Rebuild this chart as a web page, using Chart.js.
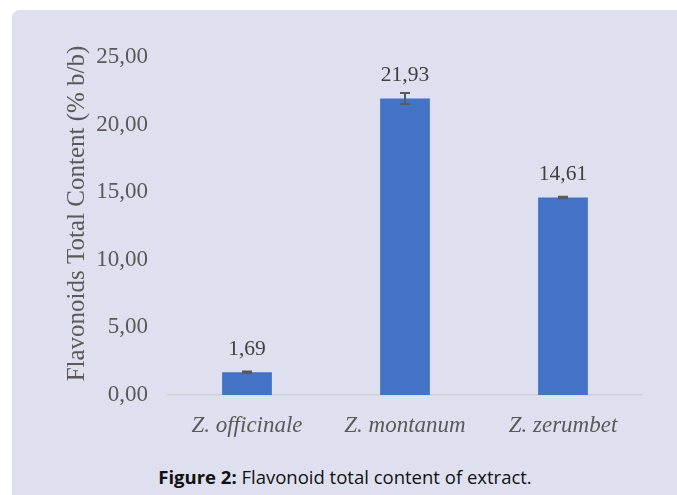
<!DOCTYPE html>
<html>
<head>
<meta charset="utf-8">
<script src="https://cdn.jsdelivr.net/npm/chart.js@4.4.1/dist/chart.umd.min.js"></script>
<style>
    html, body { margin: 0; padding: 0; background: #ffffff; }
    body { width: 677px; height: 495px; position: relative; overflow: hidden; }
    #panel {
        position: absolute; left: 12px; top: 10px; width: 680px; height: 500px;
        background: #dee0ef; border-radius: 8px;
    }
    #wrap { position: absolute; left: 0; top: 0; width: 677px; height: 450px; }
    #caption {
        position: absolute; left: 0; top: 464px; width: 690px; text-align: center;
        font-family: 'Open Sans', sans-serif; font-size: 18.5px; color: #111;
    }
</style>
</head>
<body>
<div id="panel"></div>
<div id="wrap"><canvas id="chart"></canvas></div>
<div id="caption"><b>Figure 2:</b> Flavonoid total content of extract.</div>
<script>
const categories = ['Z. officinale', 'Z. montanum', 'Z. zerumbet']
const values = [1.69, 21.93, 14.61]
const errors = [0.05, 0.4, 0.06]
const yTicks = [0, 5, 10, 15, 20, 25]

const fmt = v => v.toFixed(2).replace('.', ',')
const serif = "'Liberation Serif', 'Times New Roman', serif"

const labelsAndErrors = {
    id: 'labelsAndErrors',
    afterDatasetsDraw(chart) {
        const ctx = chart.ctx
        const y = chart.scales.y
        const meta = chart.getDatasetMeta(0)
        ctx.save()
        meta.data.forEach((bar, i) => {
            const top = y.getPixelForValue(values[i] + errors[i])
            const bot = y.getPixelForValue(values[i] - errors[i])
            ctx.strokeStyle = '#595959'
            ctx.lineWidth = 2
            ctx.beginPath()
            ctx.moveTo(bar.x, top); ctx.lineTo(bar.x, bot)
            ctx.moveTo(bar.x - 5, top); ctx.lineTo(bar.x + 5, top)
            ctx.moveTo(bar.x - 5, bot); ctx.lineTo(bar.x + 5, bot)
            ctx.stroke()
            ctx.fillStyle = '#404040'
            ctx.font = '21.5px ' + serif
            ctx.textAlign = 'center'
            ctx.textBaseline = 'middle'
            ctx.fillText(fmt(values[i]), bar.x, bar.y - 23)
        })
        ctx.restore()
    }
}

new Chart(document.getElementById('chart'), {
    type: 'bar',
    data: {
        labels: categories,
        datasets: [{
            data: values,
            backgroundColor: '#4472c4',
            categoryPercentage: 1,
            barPercentage: 0.315
        }]
    },
    options: {
        responsive: true,
        maintainAspectRatio: false,
        animation: false,
        layout: { padding: { top: 57, right: 35, left: 0, bottom: 0 } },
        plugins: { legend: { display: false }, tooltip: { enabled: false } },
        scales: {
            x: {
                grid: { display: false },
                border: { color: '#cfd0d6', width: 1.5 },
                ticks: { color: '#595959', font: { family: serif, size: 23, style: 'italic' }, padding: 9 },
                afterFit: s => { s.height = 55 }
            },
            y: {
                min: 0,
                max: 25,
                afterBuildTicks: s => { s.ticks = yTicks.map(v => ({ value: v })) },
                grid: { display: false },
                border: { display: false },
                ticks: { color: '#595959', font: { family: serif, size: 23 }, padding: 12, callback: v => fmt(v) },
                title: {
                    display: true,
                    text: '\u00a0\u00a0\u00a0\u00a0Flavonoids Total Content (% b/b)',
                    color: '#595959',
                    font: { family: serif, size: 25 },
                    padding: { top: 62 }
                },
                afterFit: s => { s.width = 168 }
            }
        }
    },
    plugins: [labelsAndErrors]
})
</script>
</body>
</html>
